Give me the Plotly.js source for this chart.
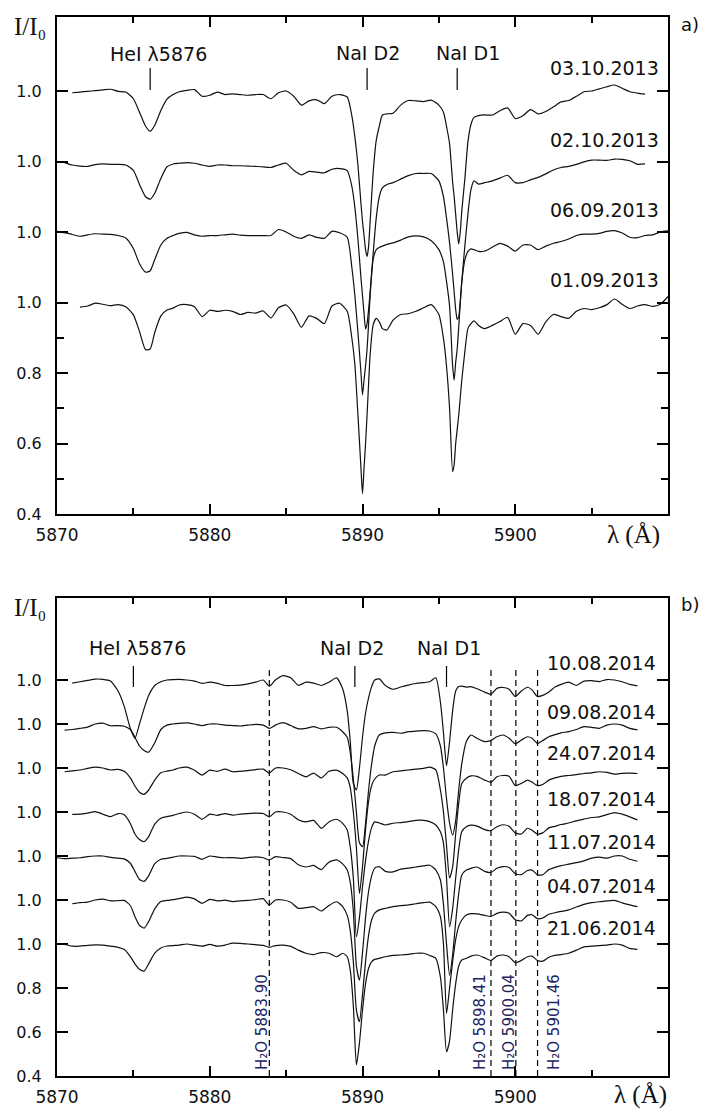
<!DOCTYPE html>
<html><head><meta charset="utf-8">
<script src="https://cdn.plot.ly/plotly-3.0.1.min.js"></script>
<style>html,body{margin:0;padding:0;background:#fff}#chart{width:703px;height:1112px}</style>
</head><body><div id="chart"></div>
<script>
// ---------------- Panel a) data ----------------
const waveA = [
  5870,
  5870.5, 5871, 5871.5, 5872, 5872.5, 5873, 5873.5, 5874, 5874.5, 5875,
  5875.4, 5875.8, 5876.1, 5876.4, 5876.8, 5877.2, 5877.6, 5878, 5878.5, 5879,
  5879.5, 5880, 5880.5, 5881, 5881.5, 5882, 5882.5, 5883, 5883.5, 5884,
  5884.5, 5885, 5885.5, 5886, 5886.5, 5887, 5887.5, 5888, 5888.5, 5889,
  5889.3, 5889.5, 5889.7, 5889.9, 5890, 5890.1, 5890.2, 5890.3, 5890.4, 5890.5,
  5890.7, 5890.9, 5891.1, 5891.3, 5891.6, 5892, 5892.5, 5893, 5893.5, 5894,
  5894.5, 5895, 5895.3, 5895.5, 5895.7, 5895.9, 5896, 5896.1, 5896.2, 5896.3,
  5896.4, 5896.5, 5896.7, 5896.9, 5897.1, 5897.3, 5897.6, 5898, 5898.5, 5899,
  5899.5, 5900, 5900.5, 5901, 5901.5, 5902, 5902.5, 5903, 5903.5, 5904,
  5904.5, 5905, 5905.5, 5906, 5906.5, 5907, 5907.5, 5908, 5908.5, 5909,
  5909.5, 5910
];
const datesA = ['03.10.2013', '02.10.2013', '06.09.2013', '01.09.2013'];
const offsetsA = [0.6, 0.4, 0.2, 0.0];
const spec_03_10_2013 = [
  null,
  null, 0.995, 0.997, 0.999, 1.001, 1.003, 1.005, 0.999, 0.997, 0.978,
  0.94, 0.9, 0.886, 0.903, 0.945, 0.977, 0.99, 0.998, 1.002, 1.004,
  0.985, 0.988, 0.997, 0.99, 0.992, 0.99, 0.988, 0.99, 0.99, 0.978,
  0.995, 1.0, 0.985, 0.96, 0.972, 0.975, 0.964, 0.985, 0.99, 0.983,
  0.93, 0.87, 0.79, 0.68, 0.63, 0.59, 0.55, 0.53, 0.56, 0.63,
  0.77, 0.86, 0.9, 0.932, 0.935, 0.937, 0.96, 0.973, 0.972, 0.97,
  0.974, 0.96, 0.94, 0.9, 0.85, 0.742, 0.7, 0.65, 0.6, 0.566,
  0.6, 0.66, 0.75, 0.855, 0.905, 0.925, 0.93, 0.932, 0.932, 0.944,
  0.952, 0.922, 0.93, 0.947, 0.935, 0.942, 0.955, 0.969, 0.973, 0.985,
  0.998, 1.0, 1.006, 1.012, 1.017, 1.008, 0.998, 0.994, 0.991, null,
  null, null
];
const spec_02_10_2013 = [
  null,
  0.997, 0.99, 0.987, 0.986, 0.991, 0.993, 0.992, 0.992, 0.99, 0.975,
  0.935, 0.9, 0.893, 0.91, 0.952, 0.985, 0.993, 0.995, 0.997, 0.995,
  0.99, 0.986, 0.99, 0.99, 0.988, 0.988, 0.987, 0.986, 0.985, 0.983,
  0.99, 0.995, 0.975, 0.962, 0.972, 0.97, 0.968, 0.978, 0.98, 0.974,
  0.93, 0.87, 0.78, 0.67, 0.62, 0.57, 0.525, 0.54, 0.58, 0.63,
  0.74, 0.84, 0.9, 0.925, 0.935, 0.94, 0.95, 0.96, 0.966, 0.966,
  0.966, 0.945, 0.9, 0.84, 0.77, 0.68, 0.63, 0.58, 0.552, 0.56,
  0.6, 0.66, 0.76, 0.85, 0.92, 0.945, 0.936, 0.94, 0.945, 0.953,
  0.961, 0.94, 0.94, 0.948, 0.955, 0.965, 0.976, 0.983, 0.986, 0.992,
  0.999, 1.004, 1.004, 1.003, 1.007, 1.006, 1.002, 0.992, 0.993, null,
  null, null
];
const spec_06_09_2013 = [
  1.002,
  0.998, 0.993, 0.988, 0.992, 0.995, 0.994, 0.993, 0.99, 0.983, 0.953,
  0.91, 0.886, 0.89, 0.922, 0.963, 0.982, 0.99, 0.996, 0.999, 0.992,
  0.988, 0.99, 0.99, 0.992, 0.994, 0.991, 0.99, 0.99, 0.99, 0.99,
  1.007, 1.0, 0.988, 0.982, 0.992, 0.985, 0.982, 1.002, 0.998, 0.985,
  0.9, 0.82, 0.716, 0.6, 0.538, 0.58, 0.62, 0.668, 0.74, 0.82,
  0.923, 0.95, 0.956, 0.96, 0.965, 0.969, 0.977, 0.986, 0.989, 0.986,
  0.975, 0.95, 0.915, 0.86, 0.79, 0.62, 0.58, 0.63, 0.668, 0.73,
  0.8, 0.858, 0.92, 0.945, 0.952, 0.95, 0.945, 0.946, 0.957, 0.968,
  0.96, 0.946, 0.963, 0.963, 0.95, 0.96, 0.968, 0.973, 0.98, 0.99,
  0.994, 0.994, 0.996, 1.002, 1.004, 0.997, 0.985, 0.984, 0.99, 0.992,
  1.0, 1.003
];
const spec_01_09_2013 = [
  null,
  null, null, 0.987, 0.99, 0.998, 0.995, 0.991, 0.994, 0.988, 0.965,
  0.918, 0.866, 0.868, 0.915, 0.962, 0.979, 0.984, 0.993, 0.994, 0.988,
  0.96, 0.978, 0.975, 0.978, 0.975, 0.966, 0.972, 0.97, 0.976, 0.956,
  0.985, 0.993, 0.968, 0.93, 0.962, 0.955, 0.94, 0.99, 0.998, 0.975,
  0.9, 0.824, 0.682, 0.53, 0.458, 0.53, 0.6, 0.682, 0.77, 0.852,
  0.937, 0.955, 0.945, 0.926, 0.922, 0.95, 0.966, 0.968, 0.975, 0.985,
  0.994, 0.966, 0.898, 0.82, 0.7, 0.52, 0.54, 0.6, 0.64, 0.68,
  0.73, 0.78, 0.86, 0.926, 0.94, 0.948, 0.935, 0.926, 0.935, 0.946,
  0.958, 0.91, 0.94, 0.935, 0.91, 0.945, 0.966, 0.96, 0.955, 0.975,
  0.983, 0.98, 0.985, 0.994, 1.01, 0.995, 0.983, 0.99, 0.994, 0.989,
  0.995, 1.017
];
const seriesA = [spec_03_10_2013, spec_02_10_2013, spec_06_09_2013, spec_01_09_2013];

// ---------------- Panel b) data ----------------
const waveB = [
  5870, 5870.5, 5871, 5871.5, 5872, 5872.5, 5873, 5873.5, 5874, 5874.4,
  5874.8, 5875.1, 5875.4, 5875.7, 5876, 5876.4, 5876.8, 5877.2, 5877.6, 5878,
  5878.5, 5879, 5879.5, 5880, 5880.5, 5881, 5881.5, 5882, 5882.5, 5883,
  5883.5, 5883.9, 5884.3, 5884.8, 5885.3, 5885.8, 5886.3, 5886.8, 5887.3, 5887.8,
  5888.3, 5888.7, 5889, 5889.2, 5889.4, 5889.6, 5889.8, 5890, 5890.2, 5890.4,
  5890.6, 5890.8, 5891.1, 5891.5, 5892, 5892.5, 5893, 5893.5, 5894, 5894.4,
  5894.8, 5895.1, 5895.3, 5895.5, 5895.7, 5895.9, 5896.1, 5896.3, 5896.5, 5896.8,
  5897.1, 5897.5, 5898, 5898.4, 5898.8, 5899.2, 5899.6, 5900, 5900.4, 5900.8,
  5901.1, 5901.45, 5901.8, 5902.2, 5902.6, 5903, 5903.5, 5904, 5904.5, 5905,
  5905.5, 5906, 5906.5, 5907, 5907.5, 5908
];
const datesB = ['10.08.2014', '09.08.2014', '24.07.2014', '18.07.2014', '11.07.2014', '04.07.2014', '21.06.2014'];
const offsetsB = [1.2, 1.0, 0.8, 0.6, 0.4, 0.2, 0.0];
const spec_10_08_2014 = [
  null, null, 0.986, 0.992, 0.998, 1.004, 1.003, 0.995, 0.95, 0.88,
  0.78, 0.735, 0.8, 0.87, 0.93, 0.975, 0.992, 1.0, 1.002, 1.003,
  1.0, 0.995, 0.985, 0.99, 0.985, 0.975, 0.975, 0.977, 0.982, 0.99,
  1.0, 0.972, 1.0, 1.02, 1.01, 0.976, 0.99, 0.986, 0.975, 0.99,
  1.01, 0.96, 0.86, 0.72, 0.53, 0.5, 0.6, 0.74, 0.85, 0.92,
  0.97, 1.0, 1.005, 0.975, 0.958, 0.968, 0.977, 0.984, 0.988, 0.992,
  1.01, 0.9, 0.76, 0.61, 0.72, 0.86, 0.95, 0.97, 0.972, 0.968,
  0.97, 0.96, 0.945, 0.935, 0.962, 0.966, 0.958, 0.925, 0.95, 0.967,
  0.955, 0.925, 0.93, 0.945, 0.968, 0.98, 0.99, 0.975, 0.995, 0.997,
  0.993, 1.002, 1.0, 0.992, 0.98, 0.973
];
const spec_09_08_2014 = [
  null, 0.972, 0.975, 0.98, 0.986, 1.0, 1.004, 0.992, 0.993, 0.99,
  0.975, 0.94, 0.9, 0.88, 0.872, 0.915, 0.975, 0.995, 1.0, 1.003,
  1.005, 1.0, 0.993, 1.0, 1.0, 0.995, 0.993, 0.991, 0.995, 0.998,
  0.995, 0.98, 0.995, 1.006, 0.993, 0.978, 0.98, 0.988, 0.978, 0.985,
  0.985, 0.965, 0.94, 0.87, 0.75, 0.6, 0.46, 0.442, 0.55, 0.7,
  0.82, 0.9, 0.95, 0.96, 0.962, 0.958, 0.965, 0.968, 0.97, 0.968,
  0.955, 0.9, 0.8, 0.66, 0.55, 0.495, 0.56, 0.7, 0.82, 0.92,
  0.95, 0.935, 0.92, 0.925, 0.942, 0.95, 0.935, 0.91, 0.927, 0.942,
  0.935, 0.912, 0.925, 0.942, 0.952, 0.96, 0.965, 0.975, 0.988, 0.985,
  0.98, 0.995, 1.0, 0.995, 0.98, 0.973
];
const spec_24_07_2014 = [
  null, 0.983, 0.987, 0.991, 0.998, 1.004, 1.0, 0.991, 0.994, 0.985,
  0.955, 0.918, 0.89, 0.88, 0.9, 0.945, 0.978, 0.986, 0.991, 1.0,
  1.004, 0.99, 0.968, 0.99, 0.985, 0.995, 0.983, 0.985, 0.988, 0.993,
  0.995, 0.977, 1.0, 1.0, 0.992, 0.975, 0.96, 0.977, 0.955, 0.985,
  0.99, 0.975, 0.955, 0.91, 0.8, 0.64, 0.43, 0.55, 0.72, 0.85,
  0.92, 0.95, 0.968, 0.968, 0.983, 0.987, 0.991, 0.995, 0.998, 1.004,
  0.991, 0.9, 0.8, 0.65, 0.5, 0.55, 0.7, 0.84, 0.93, 0.953,
  0.964, 0.962, 0.945, 0.935, 0.96, 0.966, 0.962, 0.92, 0.93, 0.945,
  0.936, 0.92, 0.925, 0.945, 0.955, 0.962, 0.966, 0.97, 0.975, 0.978,
  0.983, 0.98, 0.972, 0.976, 0.977, 0.975
];
const spec_18_07_2014 = [
  null, null, 0.989, 0.99, 0.995, 1.002, 0.99, 0.979, 0.993, 0.987,
  0.948, 0.9, 0.875, 0.865, 0.888, 0.945, 0.972, 0.979, 0.985, 0.993,
  1.0, 0.99, 0.967, 0.99, 0.985, 0.993, 0.986, 0.99, 0.993, 0.995,
  0.993, 0.978, 1.0, 1.0, 0.99, 0.965, 0.955, 0.962, 0.926, 0.955,
  0.967, 0.948, 0.918, 0.84, 0.7, 0.433, 0.52, 0.66, 0.78, 0.87,
  0.93, 0.955, 0.95, 0.941, 0.949, 0.952, 0.956, 0.962, 0.962, 0.956,
  0.941, 0.91, 0.857, 0.7, 0.479, 0.56, 0.7, 0.83, 0.911, 0.933,
  0.94, 0.936, 0.92, 0.915, 0.933, 0.942, 0.935, 0.905, 0.9, 0.926,
  0.917, 0.9, 0.905, 0.928, 0.935, 0.943, 0.95, 0.96, 0.968, 0.975,
  0.978, 0.988, 0.997, 0.99, 0.978, 0.964
];
const spec_11_07_2014 = [
  0.992, 0.988, 0.99, 0.992, 0.997, 1.0, 1.0, 0.994, 0.99, 0.987,
  0.967, 0.93, 0.893, 0.885, 0.91, 0.965, 0.985, 0.989, 0.995, 1.0,
  1.0, 0.998, 0.985, 1.0, 0.995, 0.992, 0.993, 0.989, 0.993, 0.996,
  0.992, 0.982, 0.997, 0.993, 0.988, 0.96, 0.95, 0.957, 0.938, 0.972,
  0.982, 0.964, 0.936, 0.88, 0.75, 0.5, 0.436, 0.56, 0.72, 0.84,
  0.91, 0.945, 0.952, 0.93, 0.928, 0.94, 0.945, 0.95, 0.955, 0.958,
  0.936, 0.891, 0.78, 0.6, 0.458, 0.55, 0.7, 0.83, 0.914, 0.936,
  0.944, 0.95, 0.93, 0.925, 0.944, 0.952, 0.948, 0.92, 0.915, 0.934,
  0.936, 0.915, 0.915, 0.938, 0.948, 0.956, 0.963, 0.97, 0.978, 0.99,
  0.995, 0.99, 1.0, 1.0, 0.985, 0.976
];
const spec_04_07_2014 = [
  null, null, 0.983, 0.988, 0.99, 1.0, 1.004, 0.996, 0.997, 0.998,
  0.975, 0.925, 0.885, 0.872, 0.902, 0.96, 0.993, 0.998, 1.002, 1.006,
  1.013, 1.005, 0.985, 1.003, 0.996, 0.999, 0.993, 0.996, 0.998, 1.002,
  1.006, 0.977, 1.0, 1.0, 0.99, 0.962, 0.965, 0.97, 0.95, 0.975,
  0.992, 0.97, 0.93, 0.86, 0.72, 0.5, 0.447, 0.57, 0.72, 0.84,
  0.91, 0.94, 0.955, 0.962, 0.97, 0.974, 0.978, 0.983, 0.988, 0.99,
  0.97, 0.924, 0.8, 0.485, 0.6, 0.72, 0.82, 0.88, 0.909, 0.932,
  0.938, 0.937, 0.93, 0.925, 0.939, 0.945, 0.94, 0.91, 0.905, 0.93,
  0.933, 0.915, 0.918, 0.935, 0.942, 0.948, 0.955, 0.968, 0.98, 0.988,
  0.992, 0.996, 0.998, 0.987, 0.978, 0.97
];
const spec_21_06_2014 = [
  1.0, 0.998, 0.99, 0.99, 0.994, 0.996, 0.995, 0.99, 0.985, 0.975,
  0.943, 0.91, 0.885, 0.877, 0.91, 0.958, 0.982, 0.991, 0.993, 0.995,
  1.0, 0.995, 0.99, 0.998, 0.99, 0.995, 1.004, 1.003, 1.0, 0.997,
  0.994, 0.985, 0.993, 0.995, 0.989, 0.972, 0.958, 0.952, 0.961, 0.958,
  0.942, 0.958, 0.942, 0.88, 0.72, 0.45, 0.55, 0.7, 0.82, 0.89,
  0.92, 0.93, 0.935, 0.942, 0.948, 0.95, 0.953, 0.958, 0.958, 0.948,
  0.935, 0.85, 0.7, 0.51, 0.56, 0.7, 0.82, 0.9, 0.927, 0.935,
  0.945, 0.95, 0.937, 0.925, 0.945, 0.95, 0.942, 0.915, 0.925, 0.942,
  0.945, 0.925, 0.922, 0.94, 0.948, 0.952, 0.958, 0.972, 0.987, 0.99,
  0.993, 0.995, 1.0, 0.995, 0.98, 0.976
];
const seriesB = [spec_10_08_2014, spec_09_08_2014, spec_24_07_2014, spec_18_07_2014,
                 spec_11_07_2014, spec_04_07_2014, spec_21_06_2014];

// line identifications
const lineLabels = ['HeI λ5876', 'NaI D2', 'NaI D1'];
const lineWaveA = [5876.1, 5890.3, 5896.2];
const lineWaveB = [5875.0, 5889.5, 5895.5];
const h2oWave = [5883.90, 5898.41, 5900.04, 5901.46];

// tick labels
const xTickVals = [5870, 5880, 5890, 5900];
const xTickText = ['5870', '5880', '5890', '5900'];
const yTickValsA = [0.4, 0.6, 0.8, 1.0, 1.2, 1.4, 1.6];
const yTickTextA = ['0.4', '0.6', '0.8', '1.0', '1.0', '1.0', '1.0'];
const yTickValsB = [0.4, 0.6, 0.8, 1.0, 1.2, 1.4, 1.6, 1.8, 2.0, 2.2];
const yTickTextB = ['0.4', '0.6', '0.8', '1.0', '1.0', '1.0', '1.0', '1.0', '1.0', '1.0'];

// ---------------- layout helpers ----------------
const W = 703, H = 1112;
const px = v => v / W, py = v => 1 - v / H;
const SANS = 'DejaVu Sans';
const INK = '#111';

const traces = [];
seriesA.forEach((s, i) => traces.push({
  x: waveA, y: s.map(v => v === null ? null : v + offsetsA[i]),
  type: 'scatter', mode: 'lines', xaxis: 'x', yaxis: 'y', name: datesA[i],
  line: {color: INK, width: 1.2, shape: 'spline', smoothing: 0.6}, connectgaps: false, hoverinfo: 'skip'
}));
seriesB.forEach((s, i) => traces.push({
  x: waveB, y: s.map(v => v === null ? null : v + offsetsB[i]),
  type: 'scatter', mode: 'lines', xaxis: 'x2', yaxis: 'y2', name: datesB[i],
  line: {color: INK, width: 1.2, shape: 'spline', smoothing: 0.6}, connectgaps: false, hoverinfo: 'skip'
}));

function xAxis(domain, anchor) {
  return {
    domain: domain, anchor: anchor, range: [5870, 5910],
    tickmode: 'array', tickvals: xTickVals, ticktext: xTickText,
    ticks: 'inside', ticklen: 10, tickwidth: 2, tickcolor: '#000',
    showline: true, linewidth: 2, linecolor: '#000', mirror: 'ticks',
    showgrid: false, zeroline: false, ticklabelstandoff: 5,
    tickfont: {family: SANS, size: 17, color: INK},
    minor: {tickmode: 'array', tickvals: [5875, 5885, 5895, 5905], ticks: 'inside', ticklen: 6, tickwidth: 2, tickcolor: '#000', showgrid: false}
  };
}
function yAxis(domain, anchor, range, vals, text, minorVals) {
  const ax = {
    domain: domain, anchor: anchor, range: range,
    tickmode: 'array', tickvals: vals, ticktext: text,
    ticks: 'inside', ticklen: 11, tickwidth: 2, tickcolor: '#000',
    showline: true, linewidth: 2, linecolor: '#000', mirror: 'ticks',
    showgrid: false, zeroline: false, ticklabelstandoff: 10,
    tickfont: {family: SANS, size: 16, color: INK}
  };
  if (minorVals) ax.minor = {tickmode: 'array', tickvals: minorVals, ticks: 'inside', ticklen: 7, tickwidth: 2, tickcolor: '#000', showgrid: false};
  return ax;
}

const ann = [];
function txt(text, x, y, size, opts) {
  ann.push(Object.assign({text: text, xref: 'paper', yref: 'paper', x: px(x), y: py(y),
    showarrow: false, xanchor: 'center', yanchor: 'middle',
    font: {family: SANS, size: size, color: INK}}, opts || {}));
}
const serifFont = {family: 'Liberation Serif, DejaVu Serif, serif', size: 25, color: INK};
// panel a
txt('I/I₀', 30, 27, 25, {font: serifFont});
txt('a)', 690, 25, 18);
txt(lineLabels[0], 158, 54, 19);
txt(lineLabels[1], 368, 53, 19);
txt(lineLabels[2], 468, 53, 19);
[68, 140, 210, 280].forEach((y, i) => txt(datesA[i], 661, y, 19, {xanchor: 'right'}));
txt('λ (Å)', 633, 535, 25, {font: serifFont});
// panel b
txt('I/I₀', 30, 607, 25, {font: serifFont});
txt('b)', 690, 605, 18);
txt(lineLabels[0], 137, 648, 19);
txt(lineLabels[1], 352, 648, 19);
txt(lineLabels[2], 449, 648, 19);
[663, 712, 753, 799, 842, 886, 928].forEach((y, i) => txt(datesB[i], 658, y, 19, {xanchor: 'right'}));
txt('λ (Å)', 640, 1095, 25, {font: serifFont});
// water vapour labels (vertical)
[262, 480, 509, 554].forEach((x, i) => txt('H₂O ' + h2oWave[i].toFixed(2), x, 1022, 15,
  {textangle: -90, font: {family: SANS, size: 15, color: '#23235e'}}));

const shapes = [];
lineWaveA.forEach(w => shapes.push({type: 'line', xref: 'x', yref: 'paper', x0: w, x1: w, y0: py(68), y1: py(90), line: {color: '#000', width: 1.2}}));
lineWaveB.forEach(w => shapes.push({type: 'line', xref: 'x2', yref: 'paper', x0: w, x1: w, y0: py(666), y1: py(687), line: {color: '#000', width: 1.2}}));
h2oWave.forEach(w => shapes.push({type: 'line', xref: 'x2', yref: 'y2', x0: w, x1: w, y0: 0.4, y1: 2.255, line: {color: '#000', width: 1.2, dash: '6px,4px'}}));

const layout = {
  width: W, height: H, margin: {l: 0, r: 0, t: 0, b: 0},
  paper_bgcolor: '#fff', plot_bgcolor: '#fff', showlegend: false,
  xaxis: xAxis([px(57), px(668)], 'y'),
  yaxis: yAxis([py(514), py(17)], 'x', [0.4, 0.4 + 497 / 352.5], yTickValsA, yTickTextA, [0.5, 0.7, 0.9]),
  xaxis2: xAxis([px(57), px(668)], 'y2'),
  yaxis2: yAxis([py(1076), py(598)], 'x2', [0.4, 0.4 + 478 / 220], yTickValsB, yTickTextB, null),
  annotations: ann, shapes: shapes
};
Plotly.newPlot('chart', traces, layout, {staticPlot: true, displayModeBar: false});
</script></body></html>
